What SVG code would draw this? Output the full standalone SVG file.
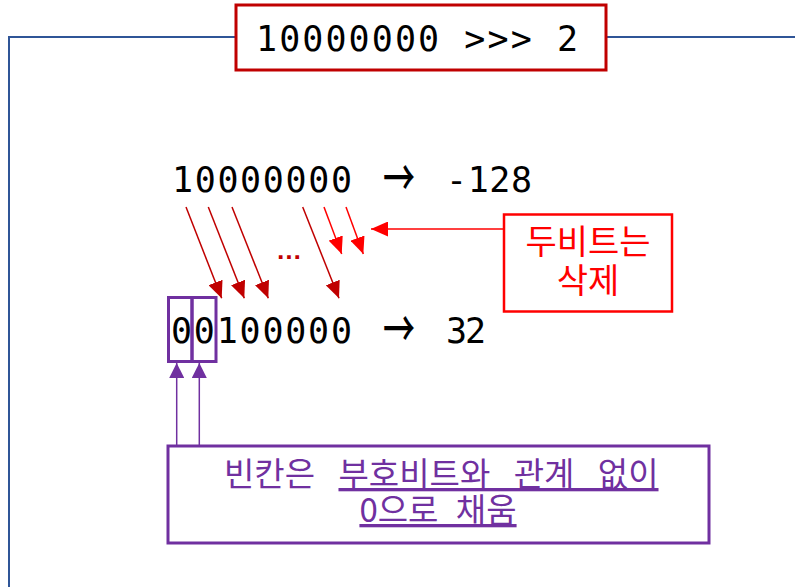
<svg xmlns="http://www.w3.org/2000/svg" width="795" height="587" viewBox="0 0 795 587">
<style>
.mono{font-family:"DejaVu Sans Mono","Liberation Mono",monospace;fill:#000}
.arr{font-family:"Noto Sans CJK KR","DejaVu Sans",sans-serif;fill:#000}
.kr{font-family:"Noto Sans CJK KR","Noto Sans",sans-serif}
.dr{stroke:#c00000;stroke-width:1.5;fill:none}
.br{stroke:#ff0000;stroke-width:1.5;fill:none}
.pu{stroke:#7030a0;stroke-width:1.5;fill:none}
</style>
<defs>
<marker id="mdr" markerUnits="userSpaceOnUse" markerWidth="17" markerHeight="15" refX="17" refY="7.5" orient="auto"><path d="M0,0 L17,7.5 L0,15 z" fill="#c00000"/></marker>
<marker id="mbr" markerUnits="userSpaceOnUse" markerWidth="17" markerHeight="15" refX="17" refY="7.5" orient="auto"><path d="M0,0 L17,7.5 L0,15 z" fill="#ff0000"/></marker>
<marker id="mpu" markerUnits="userSpaceOnUse" markerWidth="15" markerHeight="15" refX="15" refY="7.5" orient="auto"><path d="M0,0 L15,7.5 L0,15 z" fill="#7030a0"/></marker>
</defs>
<rect width="795" height="587" fill="#fff"/>
<g id="frame"><rect x="9" y="37" width="800" height="600" fill="none" stroke="#2f5597" stroke-width="2"/></g>
<g id="title">
<rect x="236" y="5" width="370" height="65" fill="#fff" stroke="#c00000" stroke-width="3"/>
<text class="mono" x="256" y="51" font-size="35" textLength="322" lengthAdjust="spacing">10000000 &gt;&gt;&gt; 2</text>
</g>
<g id="line1">
<text class="mono" x="172" y="192" font-size="35" textLength="180" lengthAdjust="spacing">10000000</text>
<text class="arr" x="383" y="196" font-size="50" font-weight="500" textLength="32" lengthAdjust="spacingAndGlyphs">→</text>
<text class="mono" x="446" y="192" font-size="35" textLength="86" lengthAdjust="spacing">-128</text>
</g>
<g id="line2">
<text class="mono" x="171" y="343" font-size="35" textLength="181" lengthAdjust="spacing">00100000</text>
<text class="arr" x="383" y="347" font-size="50" font-weight="500" textLength="32" lengthAdjust="spacingAndGlyphs">→</text>
<text class="mono" x="446" y="343" font-size="35" textLength="40" lengthAdjust="spacing">32</text>
</g>
<g id="fillbits">
<rect x="168.5" y="297.5" width="23.5" height="64" fill="none" stroke="#7030a0" stroke-width="3"/>
<rect x="192" y="297.5" width="24" height="64" fill="none" stroke="#7030a0" stroke-width="3"/>
</g>
<g id="ellipsis"><text x="276" y="259" font-family="Liberation Sans, sans-serif" font-size="26" font-weight="bold" fill="#c00000">…</text></g>
<g id="dropnote">
<rect x="504" y="214.5" width="168" height="97" fill="#fff" stroke="#ff0000" stroke-width="2.5"/>
<text class="kr" x="588" y="254" font-size="34" fill="#ff0000" text-anchor="middle">두비트는</text>
<text class="kr" x="588" y="293" font-size="34" fill="#ff0000" text-anchor="middle">삭제</text>
</g>
<g id="zeronote">
<rect x="168" y="446" width="541" height="97" fill="#fff" stroke="#7030a0" stroke-width="3"/>
<text class="kr" x="224" y="486" font-size="33" fill="#7030a0" word-spacing="16">빈칸은 <tspan text-decoration="underline">부호비트와 관계 없이</tspan></text>
<text class="kr" x="438" y="522" font-size="33" fill="#7030a0" text-anchor="middle" word-spacing="10" text-decoration="underline">0으로 채움</text>
</g>
<g id="connectors">
<line class="dr" x1="186" y1="207" x2="221.7" y2="298.3" marker-end="url(#mdr)"/>
<line class="dr" x1="208.3" y1="207" x2="244.3" y2="298.3" marker-end="url(#mdr)"/>
<line class="dr" x1="232" y1="207" x2="268.3" y2="298.3" marker-end="url(#mdr)"/>
<line class="dr" x1="302.7" y1="207" x2="339" y2="298.3" marker-end="url(#mdr)"/>
<line class="br" x1="324" y1="207" x2="341.7" y2="254" marker-end="url(#mbr)"/>
<line class="br" x1="346" y1="207" x2="363.3" y2="254" marker-end="url(#mbr)"/>
<line class="br" x1="503" y1="229" x2="371" y2="229" marker-end="url(#mbr)"/>
<line class="pu" x1="176.7" y1="445" x2="176.7" y2="363" marker-end="url(#mpu)"/>
<line class="pu" x1="199.3" y1="445" x2="199.3" y2="363" marker-end="url(#mpu)"/>
</g>
</svg>
